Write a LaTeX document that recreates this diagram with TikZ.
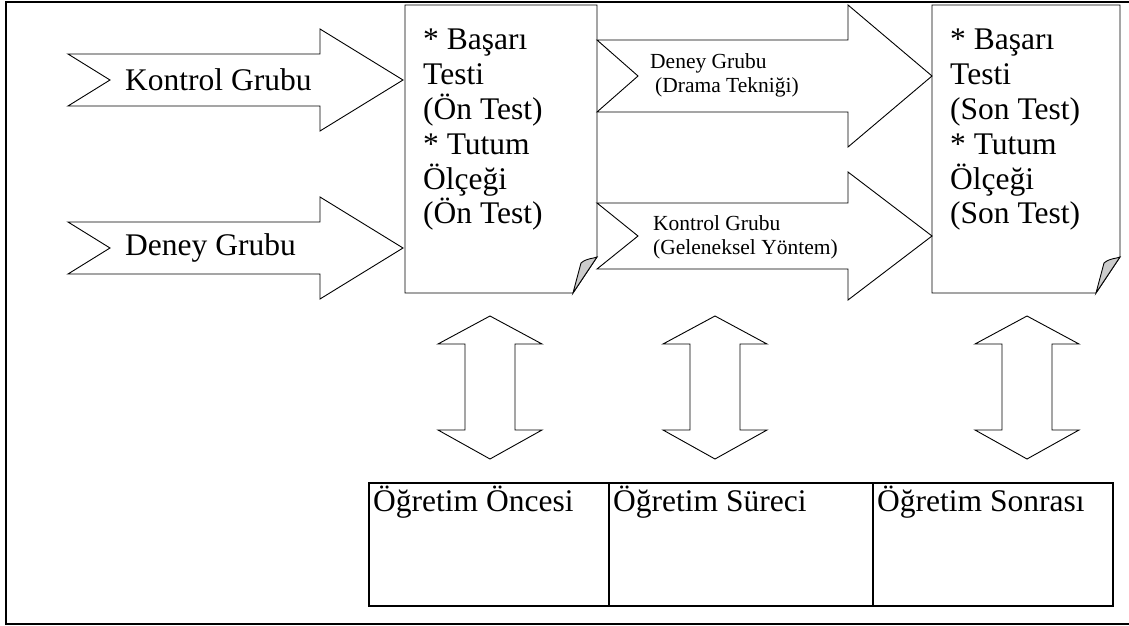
\documentclass[tikz,border=0pt]{standalone}
\usepackage{fontspec}
\setmainfont{Liberation Serif}
\usepackage{tikz}
\def\bigfont{\fontsize{31.5}{34.8}\selectfont}
\def\smallfont{\fontsize{21.5}{24}\selectfont}

\begin{document}
\begin{tikzpicture}[x=1pt,y=-1pt,line join=miter]
    \tikzstyle{every node}=[inner sep=0pt]
    \tikzstyle{big}=[font=\bigfont]
    \tikzstyle{small}=[font=\smallfont]
    \tikzstyle{blockarrow}=[draw=black,line width=0.9pt,fill=white]
    \tikzstyle{doc text}=[big, align=left, anchor=north west]
    \tikzstyle{cell}=[draw, line width=1.6pt, minimum height=123pt, anchor=north west]

    \useasboundingbox (0,0) rectangle (1129,626);
    \draw[line width=1.6pt] (6,2) rectangle (1140,624);

    % groups entering the pre test
    \foreach \i/\y/\name in {1/80/Kontrol Grubu, 2/248/Deney Grubu}{
        \draw[blockarrow] (68,\y-26) -- (320,\y-26) -- (320,\y-51) -- (403,\y)
            -- (320,\y+51) -- (320,\y+26) -- (68,\y+26) -- (110,\y) -- cycle;
        \node[big, anchor=west] (G-\i) at (125,\y) {\name};
    }

    % the two test sheets
    \foreach \l/\r in {405/597, 932/1120}{
        \draw[line width=0.9pt] (\l,5) -- (\r,5) -- (\r,257) -- (\r-24,293) -- (\l,293) -- cycle;
        \filldraw[fill=black!20, line width=0.9pt] (\r-24,293) -- (\r-16,263)
            .. controls (\r-10,258) and (\r-5,259) .. (\r,257) -- cycle;
    }
    \node[doc text] (pre) at (423,29) {* Başarı\\Testi\\(Ön Test)\\* Tutum\\Ölçeği\\(Ön Test)};
    \node[doc text] (post) at (950,29) {* Başarı\\Testi\\(Son Test)\\* Tutum\\Ölçeği\\(Son Test)};

    % treatment arrows
    \foreach \i/\y/\s/\h in {1/76/36/71, 2/236/33/64}
        \draw[blockarrow] (597,\y-\s) -- (848,\y-\s) -- (848,\y-\h) -- (932,\y)
            -- (848,\y+\h) -- (848,\y+\s) -- (597,\y+\s) -- (638,\y) -- cycle;
    \node[small, align=left, anchor=west] (T-1) at (650,75) {Deney Grubu\\\hspace*{5pt}(Drama Tekniği)};
    \node[small, align=left, anchor=west] (T-2) at (653,237) {Kontrol Grubu\\(Geleneksel Yöntem)};

    % up and down arrows
    \foreach \x in {490, 715, 1027}
        \draw[blockarrow] (\x,316) -- (\x+52,344) -- (\x+25,344) -- (\x+25,430) -- (\x+52,430)
            -- (\x,459) -- (\x-52,430) -- (\x-25,430) -- (\x-25,344) -- (\x-52,344) -- cycle;

    % phases
    \foreach \i/\l/\w/\txt in {1/368/240/Öğretim Öncesi, 2/608/264/Öğretim Süreci, 3/872/240/Öğretim Sonrası}{
        \node[cell, minimum width=\w pt] (C-\i) at (\l,482) {};
        \node[big, anchor=north west] (P-\i) at ([shift={(5,4)}]C-\i.north west) {\txt};
    }
\end{tikzpicture}
\end{document}
